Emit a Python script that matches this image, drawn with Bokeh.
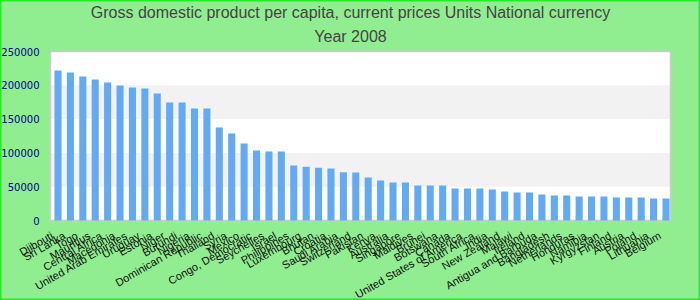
from bokeh.plotting import figure
from bokeh.models import Range1d
from bokeh.core.properties import value
from bokeh.embed import file_html
from bokeh.resources import INLINE
import math

countries = [
    "Djibouti", "Sri Lanka", "Togo", "Mauritius", "Central Africa",
    "Macedonia", "United Arab Emirates", "Uruguay", "Estonia", "Niger",
    "Burundi", "Nigeria", "Dominican Republic", "Thailand", "Syria",
    "Mexico", "Congo, Democratic", "Seychelles", "Israel", "Philippines",
    "Luxembourg", "Bhutan", "Croatia", "Saudi Arabia", "Switzerland",
    "Pakistan", "Kenya", "Australia", "Singapore", "Maldives",
    "Brunei", "Botswana", "Canada", "United States of America", "South Africa",
    "India", "New Zealand", "Malawi", "Ireland", "Antigua and Barbuda",
    "Bangladesh", "Netherlands", "Honduras", "Namibia", "Kyrgyzstan",
    "Finland", "Austria", "Poland", "Lithuania", "Belgium",
]
values = [
    222000, 219000, 213000, 208500, 204000,
    199700, 196700, 195200, 187800, 174500,
    174500, 165600, 165600, 137500, 128700,
    113900, 103500, 102000, 102000, 81500,
    79500, 78000, 77000, 71500, 71000,
    63600, 59200, 56200, 56200, 51800,
    51800, 51800, 47300, 47300, 47300,
    45800, 42900, 41400, 41400, 38500,
    37000, 37000, 35500, 35500, 35500,
    34000, 34000, 34000, 32500, 32500,
]
y_ticks = [0, 50000, 100000, 150000, 200000, 250000]
title_main = "Gross domestic product per capita, current prices Units National currency"
title_sub = "Year 2008"

# ---- layout geometry (pixels of the 700x300 canvas) ----
W, H = 700, 300
PLOT_L, PLOT_R, PLOT_T, PLOT_B = 50, 670, 51, 220
FIRST_BAR_PX, LAST_BAR_PX = 57.5, 665.5
n = len(countries)
step = (LAST_BAR_PX - FIRST_BAR_PX) / (n - 1)
x_start = -FIRST_BAR_PX / step
x_end = x_start + W / step
y_top_val = y_ticks[-1]
y_per_px = y_top_val / (PLOT_B - PLOT_T)
y_end = y_top_val + PLOT_T * y_per_px
y_start = y_end - H * y_per_px


def px_x(px):
    return x_start + px / step


def px_y(py):
    return y_end - py * y_per_px


idx = list(range(n))

p = figure(width=W, height=H, output_backend="svg", toolbar_location=None,
           x_range=Range1d(x_start, x_end), y_range=Range1d(y_start, y_end),
           x_axis_type=None, y_axis_type=None,
           min_border=0, min_border_left=0, min_border_right=0,
           min_border_top=0, min_border_bottom=0)
p.background_fill_color = "#90ee90"
p.border_fill_color = "#90ee90"
p.outline_line_color = "#22ee22"
p.outline_line_width = 2
p.grid.visible = False

# plot area
p.quad(left=[px_x(PLOT_L)], right=[px_x(PLOT_R)], bottom=[y_ticks[0]], top=[y_ticks[-1]],
       fill_color="white", line_color=None)
# alternating bands
band_b = [y_ticks[i] for i in range(1, len(y_ticks) - 1, 2)]
band_t = [y_ticks[i + 1] for i in range(1, len(y_ticks) - 1, 2)]
p.quad(left=px_x(PLOT_L), right=px_x(PLOT_R), bottom=band_b, top=band_t,
       fill_color="#f2f2f2", line_color=None)
# frame border
p.quad(left=[px_x(PLOT_L)], right=[px_x(PLOT_R)], bottom=[y_ticks[0]], top=[y_ticks[-1]],
       fill_color=None, line_color="#cccccc", line_width=1.5)

# bars
p.vbar(x=idx, top=values, width=0.57, color="#63aaf4", line_color=None)

# x labels
p.text(x=idx, y=[0] * n, text=countries, angle=math.pi / 6,
       text_align="right", text_baseline="middle", x_offset=-6, y_offset=14,
       text_font=value("Liberation Sans"), text_font_size="11px", text_color="#111111")

# y tick labels
p.text(x=[px_x(39)] * len(y_ticks), y=y_ticks, text=[str(t) for t in y_ticks],
       text_align="right", text_baseline="middle",
       text_font=value("DejaVu Sans"), text_font_size="10px", text_color="#00008b")

# titles
p.text(x=[px_x(W / 2)] * 2, y=[px_y(12), px_y(36)], text=[title_main, title_sub],
       text_align="center", text_baseline="middle",
       text_font=value("Liberation Sans"), text_font_size="16px", text_color="#444444")

open("out.html", "w").write(file_html(p, INLINE))
